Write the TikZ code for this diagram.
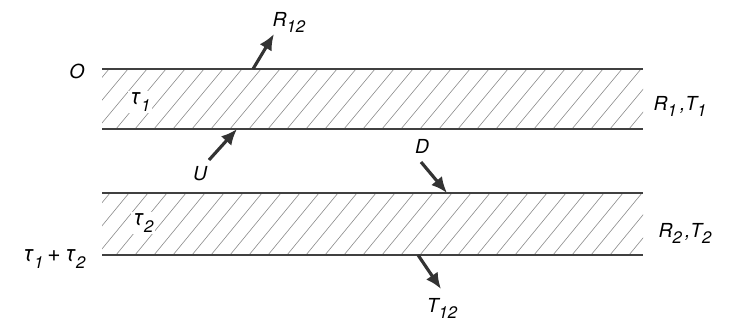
\documentclass[tikz,border=0pt]{standalone}
\usepackage{fontspec}
\setmainfont{TeX Gyre Heros}
\usetikzlibrary{arrows.meta}

\newcommand{\lsub}[1]{\raisebox{-0.6ex}{\fontsize{9.5}{10}\selectfont #1}}

\begin{document}
\begin{tikzpicture}[x=0.02cm,y=-0.02cm,>=Latex,
  lbl/.style={font=\fontsize{11}{12}\selectfont\itshape,inner sep=1pt},
  layer/.style={line width=1.1pt,black!75},
  hatch/.style={black!45,line width=0.35pt},
  flux/.style={-{Latex[length=3.2mm,width=2.8mm]},line width=1.8pt,black!80}]
\useasboundingbox (0,0) rectangle (729,327);

% the two slabs, hatched
\begin{scope}
\clip (102,69) rectangle (643,129);
\foreach \x in {40,59,...,700} \draw[hatch] (\x,129) -- (\x+50,69);
\end{scope}
\begin{scope}
\clip (102,193) rectangle (643,255);
\foreach \x in {40,59,...,700} \draw[hatch] (\x,255) -- (\x+51,193);
\end{scope}
\draw[layer] (102,69) -- (643,69);
\draw[layer] (102,129) -- (643,129);
\draw[layer] (102,193) -- (643,193);
\draw[layer] (102,255) -- (643,255);

% labels
\node[lbl] (top) at (77,71) {O};
\node[lbl,fill=white] (tau1) at (140,102) {\fontsize{13}{14}\selectfont τ\lsub{1}};
\node[lbl] (rt1) at (680,106) {R\lsub{1}\,,T\lsub{1}};
\node[lbl,fill=white] (tau2) at (143,223) {\fontsize{13}{14}\selectfont τ\lsub{2}};
\node[lbl] (bot) at (54,259) {\fontsize{13}{14}\selectfont τ\lsub{1}\,+\,τ\lsub{2}};
\node[lbl] (rt2) at (685,233) {R\lsub{2}\,,T\lsub{2}};
\node[lbl] (r12) at (289,22) {R\lsub{12}};
\node[lbl] (up) at (200,174) {U};
\node[lbl] (down) at (422,146) {D};
\node[lbl] (t12) at (442,308) {T\lsub{12}};

% fluxes
\coordinate (r12a) at (253,69);
\coordinate (r12b) at (274,34);
\coordinate (upa) at (209,160);
\coordinate (upb) at (237,129);
\coordinate (downa) at (421,162);
\coordinate (downb) at (447,193);
\coordinate (t12a) at (418,255);
\coordinate (t12b) at (441,289);
\draw[flux] (r12a) -- (r12b);
\draw[flux] (upa) -- (upb);
\draw[flux] (downa) -- (downb);
\draw[flux] (t12a) -- (t12b);
\end{tikzpicture}
\end{document}
